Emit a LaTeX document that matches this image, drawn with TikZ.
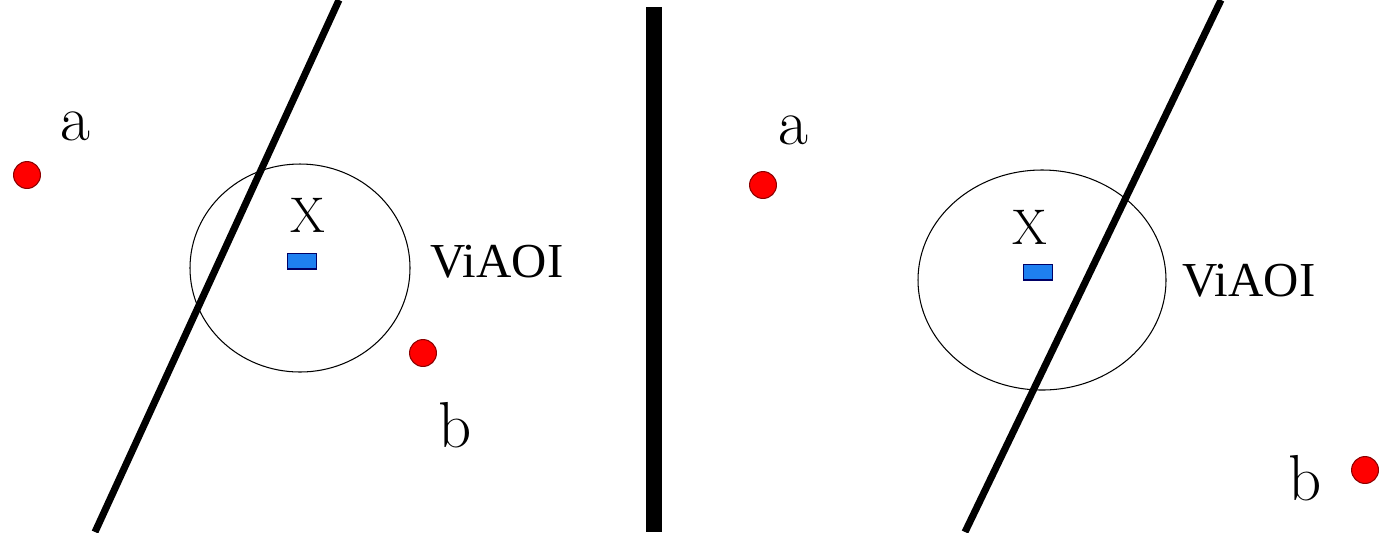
\documentclass[tikz,border=0pt]{standalone}
\usepackage{fontspec}
\newfontfamily\timesfont{Liberation Serif}
\begin{document}
\begin{tikzpicture}[x=0.02cm,y=-0.02cm,
  dot/.style={circle,draw=red!55!black,fill=red,line width=0.6pt,minimum size=27*0.567pt,inner sep=0pt},
  xbox/.style={rectangle,draw=blue!40!black,fill={rgb,255:red,30;green,128;blue,240},line width=0.6pt,minimum width=30*0.567pt,minimum height=16*0.567pt,inner sep=0pt},
  lbl/.style={inner sep=0pt,font=\fontsize{37}{40}\selectfont},
  xlbl/.style={inner sep=0pt,font=\fontsize{28.5}{30}\selectfont},
  vlbl/.style={inner sep=0pt,font=\timesfont\fontsize{27.8}{30}\selectfont},
  aoi/.style={draw,line width=0.6pt},
  cut/.style={line width=4pt}]
\useasboundingbox (0,0) rectangle (1391,532);
\fill[white] (0,0) rectangle (1391,532);
% divider
\fill (646,7) rectangle (662,532);
% left panel
\draw[aoi] (300,268) ellipse [x radius=110, y radius=104];
\draw[cut] (339,0) -- (95,532);
\node[dot] (la) at (27,175) {};
\node[dot] (lb) at (423,353) {};
\node[xbox] (lx) at (302,261) {};
\node[lbl] (lat) at (75,126) {a};
\node[lbl] (lbt) at (455,425) {b};
\node[xlbl] (lxt) at (308,215) {X};
\node[vlbl] (lv) at (497,262) {ViAOI};
% right panel
\draw[aoi] (1042,280) ellipse [x radius=124, y radius=110];
\draw[cut] (1221,0) -- (965,532);
\node[dot] (ra) at (763,185) {};
\node[dot] (rb) at (1365,470) {};
\node[xbox] (rx) at (1038,272) {};
\node[lbl] (rat) at (793,130) {a};
\node[lbl] (rbt) at (1305,478) {b};
\node[xlbl] (rxt) at (1030,227) {X};
\node[vlbl] (rv) at (1249,281) {ViAOI};
\end{tikzpicture}
\end{document}
